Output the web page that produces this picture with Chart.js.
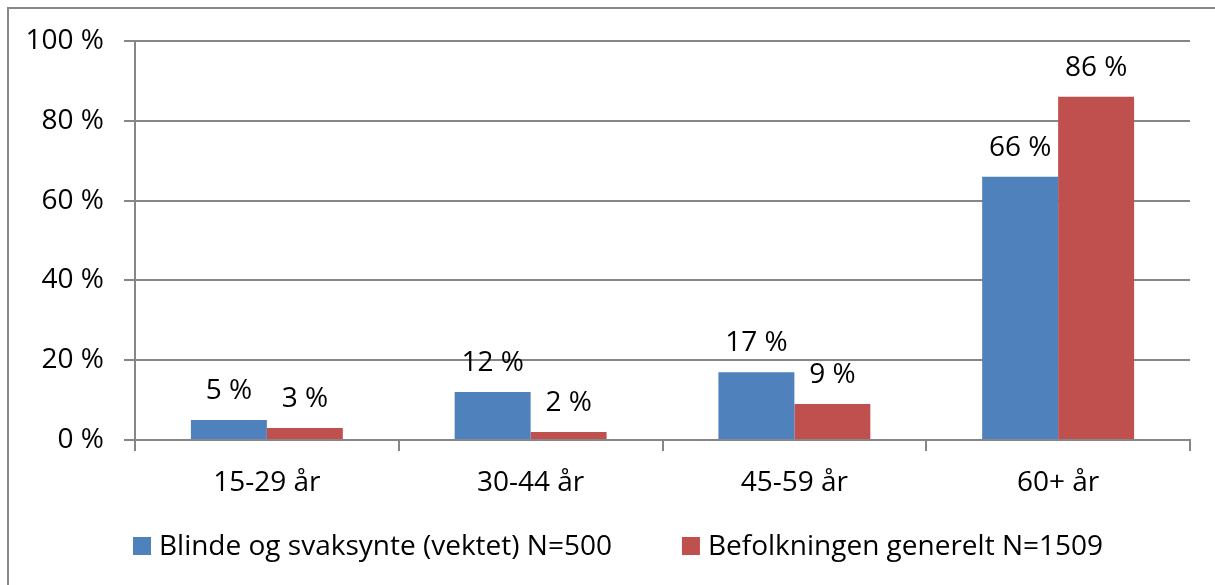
<!DOCTYPE html>
<html>
<head>
<meta charset="utf-8">
<script src="https://cdn.jsdelivr.net/npm/chart.js@4/dist/chart.umd.min.js"></script>
<style>
  html, body { margin: 0; padding: 0; background: #fff; }
  #wrap {
    position: relative;
    width: 1215px;
    height: 585px;
  }
  #frame {
    position: absolute;
    left: 7px;
    top: 7px;
    right: -10px;
    bottom: -10px;
    border: 2px solid #888;
    pointer-events: none;
  }
</style>
</head>
<body>
<div id="wrap">
  <canvas id="chart" width="1215" height="585"></canvas>
  <div id="frame"></div>
</div>
<script>
  // aldersgrupper og andel per gruppe
  const categories = ['15-29 år', '30-44 år', '45-59 år', '60+ år'];
  const blindeValues = [5, 12, 17, 66];
  const befolkningValues = [3, 2, 9, 86];
  const seriesNames = ['Blinde og svaksynte (vektet) N=500', 'Befolkningen generelt N=1509'];
  const yTicks = [0, 20, 40, 60, 80, 100];

  const FONT = '"Open Sans", sans-serif';
  const FONT_SIZE = 28;
  const GRID = '#868686';

  // verdietiketter over hver søyle
  const valueLabels = {
    id: 'valueLabels',
    afterDatasetsDraw(chart) {
      const ctx = chart.ctx;
      ctx.save();
      ctx.font = `${FONT_SIZE}px ${FONT}`;
      ctx.fillStyle = '#000';
      ctx.textAlign = 'center';
      ctx.textBaseline = 'middle';
      chart.data.datasets.forEach((ds, i) => {
        chart.getDatasetMeta(i).data.forEach((bar, j) => {
          ctx.fillText(ds.data[j] + ' %', bar.x, bar.y - 29);
        });
      });
      ctx.restore();
    }
  };

  // egen forklaring under aksen
  const bottomLegend = {
    id: 'bottomLegend',
    afterDraw(chart) {
      const ctx = chart.ctx;
      const box = 18, textGap = 8, itemGap = 70;
      ctx.save();
      ctx.font = `${FONT_SIZE}px ${FONT}`;
      const widths = chart.data.datasets.map(ds => box + textGap + ctx.measureText(ds.label).width);
      const total = widths.reduce((a, b) => a + b, 0) + itemGap * (widths.length - 1);
      let x = 618 - total / 2;
      const y = 546;
      chart.data.datasets.forEach((ds, i) => {
        ctx.fillStyle = ds.backgroundColor;
        ctx.fillRect(x, y - box / 2, box, box);
        ctx.fillStyle = '#000';
        ctx.textAlign = 'left';
        ctx.textBaseline = 'middle';
        ctx.fillText(ds.label, x + box + textGap, y + 1);
        x += widths[i] + itemGap;
      });
      ctx.restore();
    }
  };

  new Chart(document.getElementById('chart'), {
    type: 'bar',
    data: {
      labels: categories,
      datasets: [
        { label: seriesNames[0], data: blindeValues, backgroundColor: '#4F81BD' },
        { label: seriesNames[1], data: befolkningValues, backgroundColor: '#C0504D' }
      ]
    },
    options: {
      responsive: false,
      animation: false,
      events: [],
      layout: { padding: { top: 41, right: 25, left: 0, bottom: 0 } },
      datasets: { bar: { categoryPercentage: 0.576, barPercentage: 1 } },
      plugins: {
        legend: { display: false },
        tooltip: { enabled: false }
      },
      scales: {
        x: {
          afterFit(scale) { scale.height = 145; },
          grid: { drawOnChartArea: false, drawTicks: true, tickLength: 11, color: GRID, lineWidth: 2 },
          border: { display: true, color: GRID, width: 2 },
          ticks: { color: '#000', font: { family: FONT, size: FONT_SIZE }, padding: 15 }
        },
        y: {
          min: 0,
          max: 100,
          afterFit(scale) { scale.width = 135; },
          afterBuildTicks(scale) { scale.ticks = yTicks.map(v => ({ value: v })); },
          grid: { color: GRID, lineWidth: 2, tickLength: 11 },
          border: { display: true, color: GRID, width: 2 },
          ticks: {
            color: '#000',
            font: { family: FONT, size: FONT_SIZE },
            padding: 20,
            callback: v => v + ' %'
          }
        }
      }
    },
    plugins: [valueLabels, bottomLegend]
  });
</script>
</body>
</html>
